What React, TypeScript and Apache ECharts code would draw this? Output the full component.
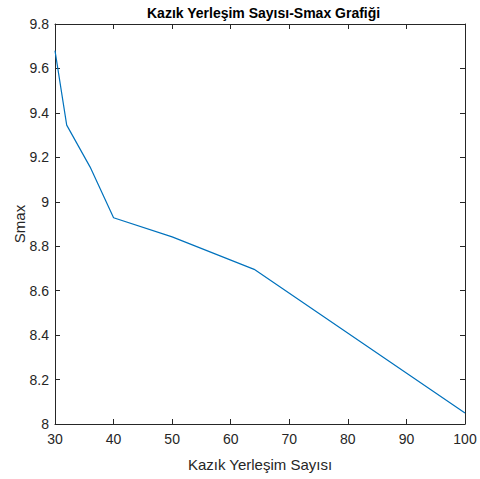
import React, { useEffect, useRef } from "react";
import * as echarts from "echarts";

const xValues = [30, 32, 36, 40, 50, 64, 100];
const smaxValues = [9.68, 9.345, 9.156, 8.928, 8.842, 8.696, 8.05];
const titleText = "Kazık Yerleşim Sayısı-Smax Grafiği";
const xName = "Kazık Yerleşim Sayısı";
const yName = "Smax";

export default function App() {
  const ref = useRef<HTMLDivElement>(null);
  useEffect(() => {
    if (!ref.current) return;
    const chart = echarts.init(ref.current, null, { renderer: "svg" });
    const font = "'Liberation Sans', Arial, Helvetica, sans-serif";
    const axisLine = { show: true, lineStyle: { color: "#262626", width: 1 } };
    const tick = { show: true, inside: true, length: 5, lineStyle: { color: "#262626", width: 1 } };
    chart.setOption({
      animation: false,
      backgroundColor: "#ffffff",
      title: {
        text: titleText,
        left: 142,
        top: 1,
        textStyle: { fontFamily: font, fontSize: 14, fontWeight: "bold", color: "#000" },
      },
      grid: { left: 55, right: 15, top: 24, bottom: 55, containLabel: false, outerBoundsMode: "none" },
      xAxis: [
        {
          type: "value",
          min: 30,
          max: 100,
          interval: 10,
          position: "bottom",
          name: xName,
          nameLocation: "middle",
          nameGap: 33,
          nameMoveOverlap: false,
          nameTextStyle: { fontFamily: font, fontSize: 15, color: "#262626" },
          axisLine,
          axisTick: tick,
          splitLine: { show: false },
          axisLabel: { fontFamily: font, fontSize: 14, color: "#262626", margin: 8 },
        },
        {
          type: "value",
          min: 30,
          max: 100,
          interval: 10,
          position: "top",
          axisLine,
          axisTick: tick,
          splitLine: { show: false },
          axisLabel: { show: false },
        },
      ],
      yAxis: [
        {
          type: "value",
          min: 8,
          max: 9.8,
          interval: 0.2,
          position: "left",
          name: yName,
          nameLocation: "middle",
          nameGap: 28,
          nameMoveOverlap: false,
          nameRotate: 90,
          nameTextStyle: { fontFamily: font, fontSize: 15, color: "#262626" },
          axisLine,
          axisTick: tick,
          splitLine: { show: false },
          axisLabel: { fontFamily: font, fontSize: 14, color: "#262626", margin: 6 },
        },
        {
          type: "value",
          min: 8,
          max: 9.8,
          interval: 0.2,
          position: "right",
          axisLine,
          axisTick: tick,
          splitLine: { show: false },
          axisLabel: { show: false },
        },
      ],
      series: [
        {
          type: "line",
          data: xValues.map((x, i) => [x, smaxValues[i]]),
          showSymbol: false,
          symbol: "none",
          lineStyle: { color: "#0072BD", width: 1.2 },
          xAxisIndex: 0,
          yAxisIndex: 0,
        },
      ],
    });
    return () => chart.dispose();
  }, []);
  return <div ref={ref} style={{ width: 480, height: 479, position: "absolute", left: 0, top: 0 }} />;
}
